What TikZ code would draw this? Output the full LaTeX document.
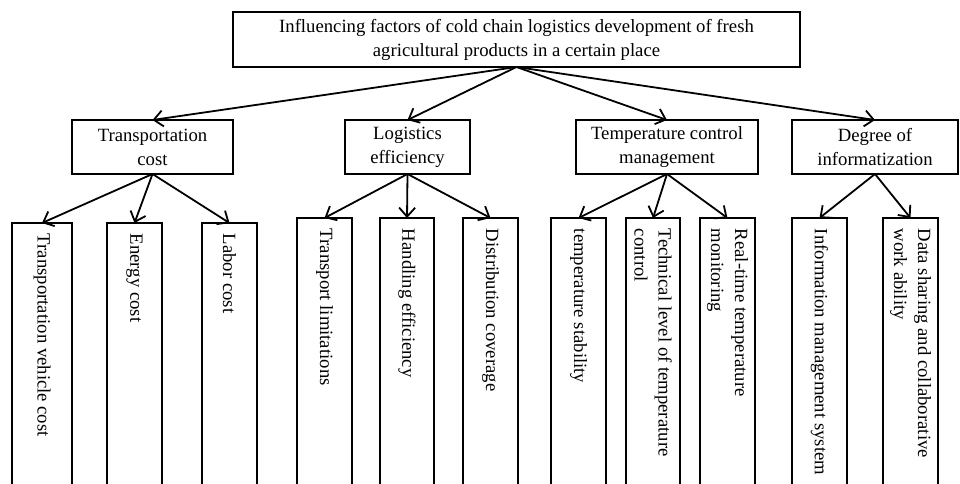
\documentclass[tikz,border=0pt]{standalone}
\usepackage{fontspec}
\setmainfont{Liberation Serif}
\usetikzlibrary{arrows.meta}
\begin{document}
\begin{tikzpicture}[x=1pt,y=-1pt,
  line width=1.8pt,
  box/.style={draw, rectangle, inner sep=0pt, outer sep=0pt, line width=1.6pt},
  txt/.style={inner sep=0pt, align=center, font=\fontsize{18.7}{24}\selectfont},
  vtxt/.style={inner sep=0pt, align=left, rotate=-90, anchor=west, font=\fontsize{18.7}{24}\selectfont},
  arr/.style={-{Straight Barb[length=9pt,width=16pt,line width=1.8pt]}, line width=1.8pt}]
\useasboundingbox (0,0) rectangle (960,484);
\clip (0,0) rectangle (960,484);
% root
\node[box, minimum width=567pt, minimum height=55pt] (root) at (516.5,39.5) {};
\node[txt] (roott) at (root.center) {Influencing factors of cold chain logistics development of fresh\\agricultural products in a certain place};
% level 2
\node[box, minimum width=161pt, minimum height=54pt] (t) at (152.5,147) {};
\node[txt] at (t.center) {Transportation\\cost};
\node[box, minimum width=125pt, minimum height=54pt] (l) at (407.5,147) {};
\node[txt] at (l.center) {Logistics\\efficiency};
\node[box, minimum width=182pt, minimum height=54pt] (tc) at (667,147) {};
\node[txt] at (tc.center) {Temperature control\\management};
\node[box, minimum width=166pt, minimum height=54pt] (d) at (875,147) {};
\node[txt] at (d.center) {Degree of\\informatization};
% level 3 boxes
\foreach \n/\xa/\xb/\top in {c1/12/72/223, c2/107/162/223, c3/202/257/223,
  c4/297/352/218, c5/380/434/218, c6/463/518/218,
  c7/551/606/218, c8/626/680/218, c9/700/755/218,
  c10/792/847/218, c11/883/938/218}{
  \node[box, anchor=north, minimum width={\xb-\xa}, minimum height=300pt] (\n) at ({(\xa+\xb)/2},\top) {};
}
\node[vtxt] at ([yshift=-10pt]c1.north) {Transportation vehicle cost};
\node[vtxt] at ([yshift=-10pt]c2.north) {Energy cost};
\node[vtxt] at ([yshift=-10pt]c3.north) {Labor cost};
\node[vtxt] at ([yshift=-10pt]c4.north) {Transport limitations};
\node[vtxt] at ([yshift=-10pt]c5.north) {Handling efficiency};
\node[vtxt] at ([yshift=-10pt]c6.north) {Distribution coverage};
\node[vtxt] at ([yshift=-10pt]c7.north) {temperature stability};
\node[vtxt] at ([yshift=-10pt]c8.north) {Technical level of temperature\\control};
\node[vtxt] at ([yshift=-10pt]c9.north) {Real-time temperature\\monitoring};
\node[vtxt] at ([yshift=-10pt]c10.north) {Information management system};
\node[vtxt] at ([yshift=-10pt]c11.north) {Data sharing and collaborative\\work ability};
% arrows
\foreach \a in {t,l,tc,d} \draw[arr] (root.south) -- (\a.north);
\foreach \a in {c1,c2,c3} \draw[arr] (t.south) -- (\a.north);
\foreach \a in {c4,c5,c6} \draw[arr] (l.south) -- (\a.north);
\foreach \a in {c7,c8,c9} \draw[arr] (tc.south) -- (\a.north);
\foreach \a in {c10,c11} \draw[arr] (d.south) -- (\a.north);
\end{tikzpicture}
\end{document}
